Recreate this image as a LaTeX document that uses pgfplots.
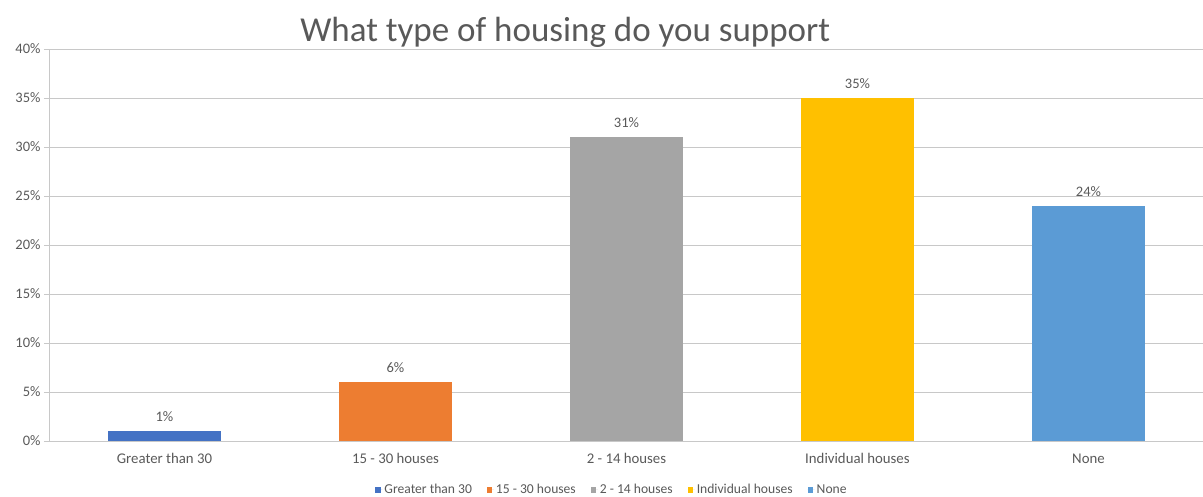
\documentclass[border=0pt]{standalone}
\usepackage{pgfplots}
\pgfplotsset{compat=1.18}
\usepackage{fontspec}
\setmainfont{Carlito}
\definecolor{c1}{HTML}{4472C4}
\definecolor{c2}{HTML}{ED7D31}
\definecolor{c3}{HTML}{A5A5A5}
\definecolor{c4}{HTML}{FFC000}
\definecolor{c5}{HTML}{5B9BD5}
\definecolor{txt}{HTML}{595959}
\definecolor{gridc}{HTML}{C8C8C8}
\begin{document}
\begin{tikzpicture}[x=1pt,y=1pt]
\begin{axis}[
  scale only axis,
  width=1155pt, height=392pt,
  ybar, bar width=0.49, bar shift=0pt,
  xmin=-0.5, xmax=4.5,
  ymin=0, ymax=40,
  ytick={0,5,...,40},
  yticklabel={\pgfmathprintnumber{\tick}\%},
  /pgf/number format/assume math mode=true,
  ymajorgrids,
  grid style={gridc, line width=0.8pt},
  axis x line*=bottom, axis y line*=left,
  axis line style={gridc, line width=0.8pt},
  xtick={0,1,2,3,4},
  xticklabels={Greater than 30,15 - 30 houses,2 - 14 houses,Individual houses,None},
  major x tick style={draw=none},
  extra x ticks={0.5,1.5,2.5,3.5,4.5},
  extra x tick labels={},
  extra x tick style={major tick length=6pt, tick align=outside, tick style={gridc, line width=0.8pt}, grid=none},
  ytick style={gridc, line width=0.8pt},
  tick align=outside,
  major tick length=5pt,
  yticklabel style={font=\fontsize{14.5}{16}\selectfont, text=txt},
  xticklabel style={font=\fontsize{14.8}{17}\selectfont, text=txt, yshift=-4pt},
  nodes near coords={\pgfmathprintnumber{\pgfplotspointmeta}\%},
  nodes near coords style={font=\fontsize{14.5}{16}\selectfont, text=txt, yshift=6pt},
  legend columns=5,
  legend style={draw=none, at={(0.4875,-0.125)}, anchor=center, font=\fontsize{13.6}{15}\selectfont, text=txt,
    /tikz/every even column/.append style={column sep=13pt}},
  legend image code/.code={\fill[#1] (0pt,-2.7pt) rectangle (5.4pt,2.7pt); \path (0pt,0pt) -- (7pt,0pt);},
  clip=false,
]
\addplot[fill=c1, draw=none] coordinates {(0,1)};
\addplot[fill=c2, draw=none] coordinates {(1,6)};
\addplot[fill=c3, draw=none] coordinates {(2,31)};
\addplot[fill=c4, draw=none] coordinates {(3,35)};
\addplot[fill=c5, draw=none] coordinates {(4,24)};
\legend{Greater than 30,15 - 30 houses,2 - 14 houses,Individual houses,None}
\node[font=\fontsize{35}{40}\selectfont, text=txt] at (rel axis cs:0.447,1.043) {What type of housing do you support};
\end{axis}
\pgfresetboundingbox
\path (-49pt,-56pt) rectangle (1154pt,441pt);
\end{tikzpicture}
\end{document}
